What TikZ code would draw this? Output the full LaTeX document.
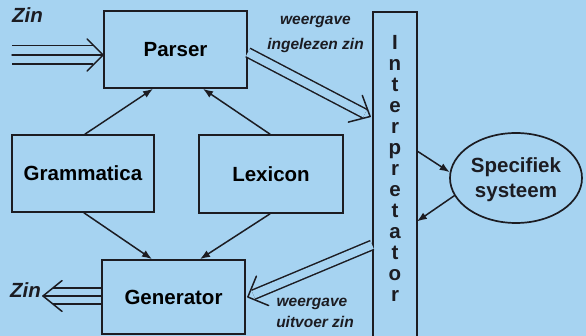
\documentclass[tikz,border=0pt]{standalone}
\usepackage{fontspec}
\setmainfont{Liberation Sans}
\usetikzlibrary{arrows.meta,shapes.geometric,calc}
\definecolor{sky}{RGB}{166,211,241}
\definecolor{ink}{RGB}{28,28,34}
\newcommand\boxfont{\fontsize{20.5}{25}\selectfont\bfseries}
\newcommand\notefont{\fontsize{15.5}{19}\selectfont\bfseries\itshape}

\begin{document}
\begin{tikzpicture}[x=1pt,y=-1pt,
  box/.style={draw=ink, line width=1.7pt, fill=sky, inner sep=0pt, font=\boxfont},
  lbl/.style={inner sep=0pt, text=ink, font=\boxfont},
  note/.style={inner sep=0pt, text=ink, font=\notefont},
  wire/.style={draw=ink, line width=1.5pt, line cap=round, line join=round},
  conn/.style={wire, -{Latex[length=10pt,width=7.5pt]}},
  dbl/.style={draw=ink, line width=1.5pt, double=sky, double distance=8pt},
]
\useasboundingbox (0,0) rectangle (586,336);
\fill[sky] (0,0) rectangle (586,336);
\clip (0,0) rectangle (586,336);

% modules
\node[box, minimum width=143pt, minimum height=77pt] (parser) at (175.5,49.5) {Parser};
\node[box, minimum width=142pt, minimum height=77pt] (gram)   at (83,173.5)   {Grammatica};
\node[box, minimum width=144pt, minimum height=78pt] (lex)    at (271,174)    {Lexicon};
\node[box, minimum width=143pt, minimum height=74pt] (gen)    at (173.5,297)  {Generator};
\node[box, minimum width=44pt,  minimum height=340pt] (interp) at (395,182)   {};
\foreach \ch [count=\k from 0] in {I,n,t,e,r,p,r,e,t,a,t,o,r}
  \node[lbl, anchor=base] (il\k) at (395,{50+21*\k}) {\ch};

% external system
\node[draw=ink, line width=1.7pt, ellipse, minimum width=132pt, minimum height=90pt, inner sep=0pt] (spec) at (516,178) {};
\node[lbl, anchor=base] (spec1) at (516,173) {Specifiek};
\node[lbl, anchor=base] (spec2) at (516,198) {systeem};

% knowledge sources feed parser and generator
\draw[conn] ($(gram.north)+(2,0)$) -- ($(parser.south)+(-22.5,0)$);
\draw[conn] ($(lex.north)+(-1,0)$) -- ($(parser.south)+(27.5,0)$);
\draw[conn] ($(gram.south)+(1,0)$) -- ($(gen.north)+(-21.5,0)$);
\draw[conn] ($(lex.south)+(-1,0)$) -- ($(gen.north)+(26.5,0)$);

% interpreter <-> specific system
\draw[conn] ($(interp.east)+(0,-30.5)$) -- (spec.175);
\draw[conn] (spec.196) -- ($(interp.east)+(-1,39.5)$);

% incoming sentence (triple arrow)
\node[lbl, anchor=base west, font=\boxfont\itshape] (zinin) at (12,23) {Zin};
\coordinate (inA) at (12,55);
\coordinate (inB) at ($(parser.west)+(0,5.5)$);
\draw[draw=ink, line width=1.5pt, double=sky, double distance=17pt] (inA) -- ($(inB)+(-10,0)$);
\draw[wire] (inA) -- (inB);
\draw[wire] ($(inB)!22.6pt!45:(inA)$) -- (inB) -- ($(inB)!22.6pt!-45:(inA)$);

% outgoing sentence (triple arrow)
\node[lbl, anchor=base west, font=\boxfont\itshape] (zinout) at (10,298) {Zin};
\coordinate (outA) at ($(gen.west)+(0,-1)$);
\coordinate (outB) at (43,296);
\draw[draw=ink, line width=1.5pt, double=sky, double distance=14.5pt] (outA) -- ($(outB)+(10,0)$);
\draw[wire] (outA) -- (outB);
\draw[wire] ($(outB)!24.5pt!39:(outA)$) -- (outB) -- ($(outB)!24.5pt!-39:(outA)$);

% parser -> interpreter (double arrow)
\coordinate (piA) at ($(parser.east)+(0,3)$);
\coordinate (piB) at ($(interp.west)+(-2,-65.5)$);
\draw[dbl, shorten >=6pt] (piA) -- (piB);
\draw[wire] ($(piB)!22.5pt!42:(piA)$) -- (piB) -- ($(piB)!22.5pt!-42:(piA)$);
\node[note, anchor=base] (n1) at (315.5,25) {weergave};
\node[note, anchor=base] (n2) at (315.5,50) {ingelezen zin};

% interpreter -> generator (double arrow)
\coordinate (igA) at ($(interp.west)+(0,63)$);
\coordinate (igB) at ($(gen.east)+(2,0)$);
\draw[dbl, shorten >=6pt] (igA) -- (igB);
\draw[wire] ($(igB)!22.5pt!45:(igA)$) -- (igB) -- ($(igB)!22.5pt!-45:(igA)$);
\node[note, anchor=base] (n3) at (312,307) {weergave};
\node[note, anchor=base] (n4) at (315,328) {uitvoer zin};
\end{tikzpicture}
\end{document}
